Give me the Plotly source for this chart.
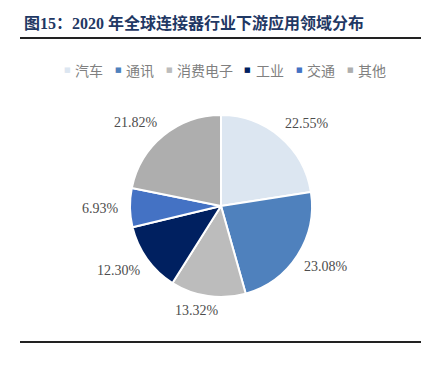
import math
import plotly.graph_objects as go

categories = ["汽车", "通讯", "消费电子", "工业", "交通", "其他"]
shares = [22.55, 23.08, 13.32, 12.30, 6.93, 21.82]
colors = ["#DCE6F1", "#4F81BD", "#BCBCBC", "#002060", "#4472C4", "#AEAEAE"]
title_text = "图15：2020 年全球连接器行业下游应用领域分布"

# the page body has an 8px default margin; work in window pixels and convert
OFF = 8
W, H = 429 - 2 * OFF, 376 - 2 * OFF


def px(x):
    return (x - OFF) / W


def py(y):
    return 1 - (y - OFF) / H


cx, cy, r = 221, 206, 91

fig = go.Figure(go.Pie(
    labels=categories,
    values=shares,
    sort=False,
    direction="clockwise",
    rotation=0,
    marker=dict(colors=colors, line=dict(color="white", width=2)),
    textinfo="none",
    domain=dict(x=[px(cx - r), px(cx + r)], y=[py(cy + r), py(cy - r)]),
    hoverinfo="label+percent",
    showlegend=False,
))

annotations = []
# title
annotations.append(dict(
    text="<b>" + title_text + "</b>", x=px(22), y=py(23), xref="paper", yref="paper",
    xanchor="left", yanchor="middle", showarrow=False,
    font=dict(family="Liberation Serif, Noto Sans CJK SC, serif", size=16, color="#1F3864"),
))


def clamp(v):
    return max(-1.0, min(1.0, v))


# value labels outside the slices, placed off each slice's mid-angle
total = sum(shares)
cum = 0.0
lw, lh, gap = 44, 14, 8
for v in shares:
    mid = (cum + v / 2) / total * 2 * math.pi
    cum += v
    ux, uy = math.sin(mid), -math.cos(mid)
    bx = cx + (r + gap) * ux + lw / 2 * clamp(3 * ux)
    by = cy + (r + gap) * uy + lh / 2 * clamp(3 * uy)
    annotations.append(dict(
        text=f"{v:.2f}%", x=px(bx), y=py(by),
        xref="paper", yref="paper", xanchor="center", yanchor="middle", showarrow=False,
        font=dict(family="Liberation Serif, Times New Roman, serif", size=14, color="#4D4D4D"),
    ))

# legend row
lx = 67
ly = py(70)
for name, col in zip(categories, colors):
    annotations.append(dict(
        text="■", x=px(lx), y=ly, xref="paper", yref="paper", xanchor="center", yanchor="middle",
        showarrow=False, font=dict(family="DejaVu Sans", size=7, color=col),
    ))
    annotations.append(dict(
        text=name, x=px(lx + 6), y=ly, xref="paper", yref="paper", xanchor="left", yanchor="middle",
        showarrow=False, font=dict(family="Noto Sans CJK SC, sans-serif", size=14, color="#808080"),
    ))
    lx += 7 + 14 * len(name) + 16

fig.update_layout(
    width=W, height=H,
    margin=dict(l=0, r=0, t=0, b=0),
    paper_bgcolor="white",
    plot_bgcolor="white",
    annotations=annotations,
    shapes=[
        dict(type="line", xref="paper", yref="paper", x0=px(20), x1=px(422),
             y0=py(38), y1=py(38), line=dict(color="#222222", width=2)),
        dict(type="line", xref="paper", yref="paper", x0=px(20), x1=px(422),
             y0=py(342), y1=py(342), line=dict(color="#222222", width=2)),
    ],
)

fig.write_html("out.html")
